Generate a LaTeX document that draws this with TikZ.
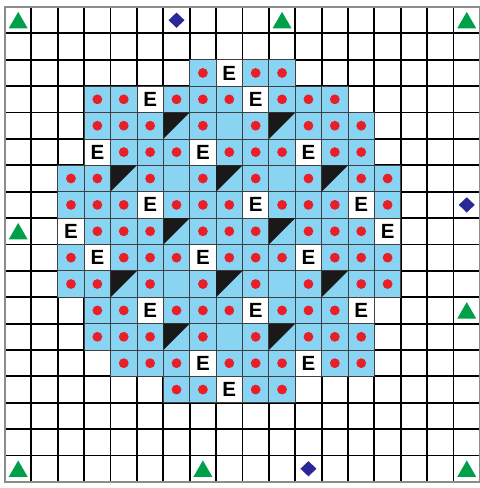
\documentclass[tikz,border=0pt]{standalone}
\usepackage{fontspec}
\setsansfont{Liberation Sans}
\usepackage{tikz}
\usetikzlibrary{shapes.geometric}
\definecolor{cellblue}{RGB}{138,212,243}
\definecolor{dotred}{RGB}{232,30,40}
\definecolor{markgreen}{RGB}{0,160,72}
\definecolor{markblue}{RGB}{40,40,150}

\begin{document}
\begin{tikzpicture}[
    x=0.7cm, y=0.7cm,
    gridline/.style={line width=1.4pt, black},
    frame/.style={line width=1pt, black!45},
    cell/.style={draw=black!75, line width=0.6pt},
    wet/.style={cell, fill=cellblue},
    ecell/.style={cell, fill=white},
    wedge/.style={fill=black!90},
    dot/.style={circle, fill=dotred, inner sep=0pt, minimum size=0.26cm},
    elabel/.style={font=\sffamily\bfseries\fontsize{15.5}{15.5}\selectfont, inner sep=0pt},
    tri/.style={regular polygon, regular polygon sides=3, fill=markgreen,
                inner sep=0pt, minimum size=0.58cm, yshift=-0.07cm},
    gem/.style={diamond, fill=markblue, inner sep=0pt,
                minimum width=0.43cm, minimum height=0.41cm}
]
\useasboundingbox (-0.19,-0.23) rectangle (18,18.265);
% grid
\foreach \i in {1,...,17} {
  \draw[gridline] (\i,0) -- (\i,18);
  \draw[gridline] (0,\i) -- (18,\i);
}
\draw[frame] (0,0) rectangle (18,18);
% wetted region (row from top / first col / last col)
\foreach \r/\a/\b in {2/7/10, 3/3/12, 4/3/13, 5/3/13, 6/2/14, 7/2/14, 8/2/14,
                      9/2/14, 10/2/14, 11/3/13, 12/3/13, 13/4/13, 14/6/10}
  \foreach \c in {\a,...,\b}
    \draw[wet] (\c,17-\r) rectangle ++(1,1);
% shaded wedges
\foreach \c/\r in {6/4, 10/4, 4/6, 8/6, 12/6, 6/8, 10/8, 4/10, 8/10, 12/10, 6/12, 10/12}
  \fill[wedge] (\c,18-\r) -- ++(1,0) -- ++(-1,-1) -- cycle;
% E cells
\foreach \c/\r in {8/2, 5/3, 9/3, 3/5, 7/5, 11/5, 5/7, 9/7, 13/7, 2/8, 14/8,
                   3/9, 7/9, 11/9, 5/11, 9/11, 13/11, 7/13, 11/13, 8/14} {
  \draw[ecell] (\c,17-\r) rectangle ++(1,1);
  \node[elabel] (e\r-\c) at (\c+0.5,17.5-\r) {E};
}
% dots
\foreach \r/\cols in {2/{7,9,10}, 3/{3,4,6,7,8,10,11,12}, 4/{3,4,5,7,9,11,12,13},
                      5/{4,5,6,8,9,10,12,13}, 6/{2,3,5,7,9,11,13,14},
                      7/{2,3,4,6,7,8,10,11,12,14}, 8/{3,4,5,7,8,9,11,12,13},
                      9/{2,4,5,6,8,9,10,12,13,14}, 10/{2,3,5,7,9,11,13,14},
                      11/{3,4,6,7,8,10,11,12}, 12/{3,4,5,7,9,11,12,13},
                      13/{4,5,6,8,9,10,12,13}, 14/{6,7,9,10}}
  \foreach \c in \cols
    \node[dot] (d\r-\c) at (\c+0.5,17.5-\r) {};
% markers
\foreach \c/\r [count=\i] in {0/0, 10/0, 17/0, 0/8, 17/11, 0/17, 7/17, 17/17}
  \node[tri] (t\i) at (\c+0.5,17.5-\r) {};
\foreach \c/\r [count=\i] in {6/0, 17/7, 11/17}
  \node[gem] (g\i) at (\c+0.5,17.5-\r) {};
\end{tikzpicture}
\end{document}
